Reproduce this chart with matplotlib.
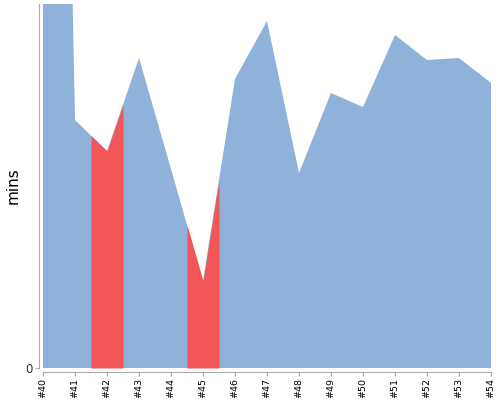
import numpy as np
import matplotlib
matplotlib.use("Agg")
import matplotlib.pyplot as plt

# build ids and durations (mins)
builds = ["#40", "#41", "#42", "#43", "#44", "#45", "#46", "#47",
          "#48", "#49", "#50", "#51", "#52", "#53", "#54"]
mins = [186.0, 24.8, 21.7, 31.0, 19.9, 8.7, 28.9, 34.7,
        19.5, 27.5, 26.1, 33.3, 30.8, 31.0, 28.5]
# builds that are highlighted (failed)
highlighted = ["#42", "#45"]

BLUE = "#8fb2da"
RED = "#f25656"
AXIS = "#aaaaaa"
PX = 72 / 100  # one pixel in points

x = np.arange(len(builds))
y = np.array(mins)

fig = plt.figure(figsize=(5, 4), dpi=100)
ax = fig.add_axes([43 / 500, 32 / 400, 448 / 500, 364 / 400])

ax.fill_between(x, 0, y, color=BLUE, lw=0)

# red band half a step either side of each highlighted build
for b in highlighted:
    i = builds.index(b)
    xs = np.linspace(i - 0.5, i + 0.5, 50)
    xs = np.unique(np.concatenate([xs, [i]]))
    ax.fill_between(xs, 0, np.interp(xs, x, y), color=RED, lw=0)

ax.set_xlim(0, len(builds) - 1)
ax.set_ylim(0, 36.4)

ax.set_xticks(x, builds)
ax.set_yticks([0], ["0"])
ax.set_ylabel("mins", fontsize=11, va="center")
ax.yaxis.set_label_coords(-30 / 448, 0.5)

for s in ["top", "right"]:
    ax.spines[s].set_visible(False)
for s in ["left", "bottom"]:
    ax.spines[s].set_position(("outward", 4 * PX))
    ax.spines[s].set_color(AXIS)
ax.tick_params(axis="both", color=AXIS, length=4 * PX, pad=2 * PX)
ax.tick_params(axis="x", labelsize=6.8, labelrotation=90, labelcolor="black")
ax.tick_params(axis="y", labelsize=8.5, labelcolor="#333333")

fig.savefig("out.png", dpi=100)
